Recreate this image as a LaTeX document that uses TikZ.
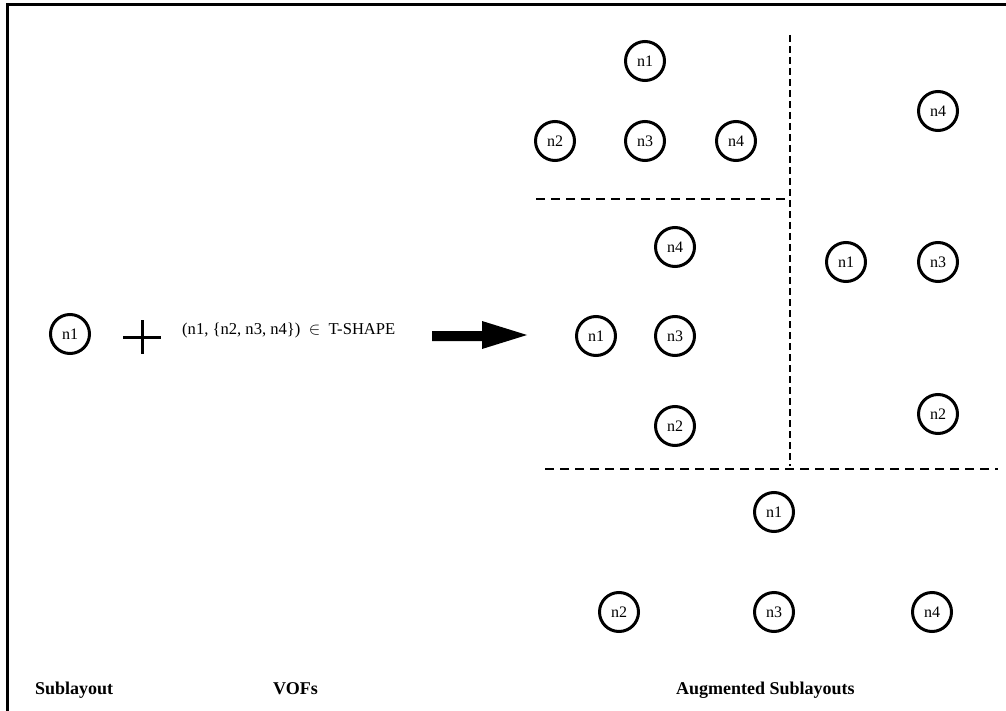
\documentclass[tikz,border=0pt]{standalone}
\usepackage{fontspec}
\setmainfont{Liberation Serif}
\begin{document}
\begin{tikzpicture}[x=1pt,y=-1pt,
  nd/.style={circle,draw,line width=3pt,minimum size=39pt,inner sep=0pt,font=\fontsize{16}{16}\selectfont},
  vdash/.style={line width=2pt,dash pattern=on 7pt off 4pt},
  hdash/.style={line width=2pt,dash pattern=on 9pt off 6pt},
  lbl/.style={anchor=base west,inner sep=0pt,font=\bfseries\fontsize{18}{18}\selectfont},
  frame/.style={line width=3pt}]
\useasboundingbox (0,0) rectangle (1006,711);
% frame
\draw[frame] (7.5,711) -- (7.5,4.5) -- (1006,4.5);
% sublayout
\node[nd] (s1) at (70,334) {n1};
% plus
\draw[line width=3pt] (123,337) -- (161,337) (142,320) -- (142,354);
% VOF text
\node[anchor=base west,inner sep=0pt,font=\fontsize{16.6}{16.6}\selectfont] (vof) at (182,334) {(n1, \{n2, n3, n4\})~~$\in$~~T-SHAPE};
% fat arrow
\fill (432,331) -- (482,331) -- (482,321) -- (527,335) -- (482,349) -- (482,341) -- (432,341) -- cycle;
% top group
\node[nd] (t1) at (645,61) {n1};
\node[nd] (t2) at (555,141) {n2};
\node[nd] (t3) at (645,141) {n3};
\node[nd] (t4) at (736,141) {n4};
% middle left group
\node[nd] (m4) at (675,247) {n4};
\node[nd] (m1) at (596,336) {n1};
\node[nd] (m3) at (675,336) {n3};
\node[nd] (m2) at (675,426) {n2};
% right group
\node[nd] (r4) at (938,111) {n4};
\node[nd] (r1) at (846,262) {n1};
\node[nd] (r3) at (938,262) {n3};
\node[nd] (r2) at (938,414) {n2};
% bottom group
\node[nd] (b1) at (774,512) {n1};
\node[nd] (b2) at (619,612) {n2};
\node[nd] (b3) at (774,612) {n3};
\node[nd] (b4) at (932,612) {n4};
% dashed separators
\draw[vdash] (789.5,35) -- (789.5,466);
\draw[hdash] (536,199) -- (789.5,199);
\draw[hdash] (545,469) -- (998,469);
% labels
\node[lbl] (l1) at (35,694) {Sublayout};
\node[lbl] (l2) at (273,694) {VOFs};
\node[lbl] (l3) at (676,694) {Augmented Sublayouts};
\end{tikzpicture}
\end{document}
